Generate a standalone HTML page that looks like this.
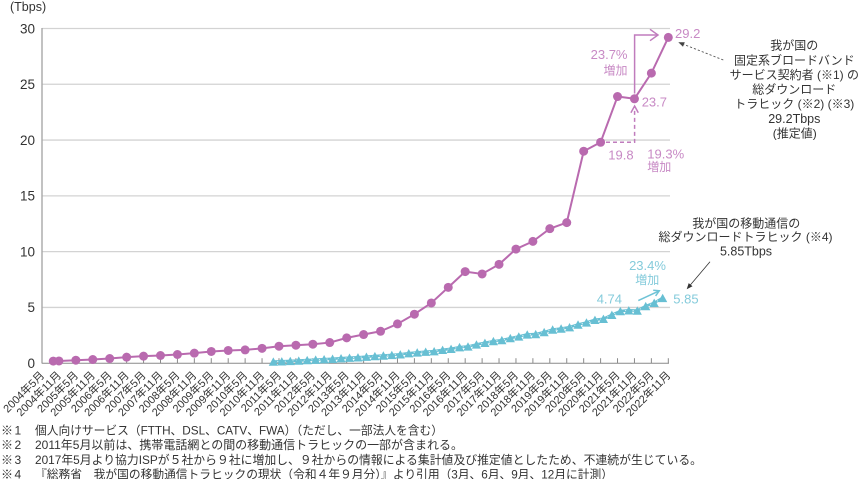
<!DOCTYPE html>
<html><head><meta charset="utf-8"><style>
html,body{margin:0;padding:0;background:#fff;}
svg{display:block;}
text{font-family:"Liberation Sans","Noto Sans CJK JP",sans-serif;}
</style></head><body>
<svg width="859" height="479" viewBox="0 0 859 479" xmlns="http://www.w3.org/2000/svg">
<defs>
<marker id="mc" markerWidth="10" markerHeight="10" refX="5" refY="5" markerUnits="userSpaceOnUse"><circle cx="5" cy="5" r="4.5" fill="#b96aaf"/></marker>
<marker id="mt" markerWidth="12" markerHeight="12" refX="6" refY="6" markerUnits="userSpaceOnUse"><path d="M6,1.8 L10.6,10.2 L1.4,10.2 Z" fill="#67bfd3"/></marker>
</defs>
<rect width="859" height="479" fill="#fff"/>
<!-- grid -->
<g stroke="#d3d3d3" stroke-width="1.3">
<line x1="42" y1="307.42" x2="670" y2="307.42"/>
<line x1="42" y1="251.63" x2="670" y2="251.63"/>
<line x1="42" y1="195.85" x2="670" y2="195.85"/>
<line x1="42" y1="140.06" x2="670" y2="140.06"/>
<line x1="42" y1="84.28" x2="670" y2="84.28"/>
<line x1="42" y1="28.49" x2="670" y2="28.49"/>
</g>
<line x1="42" y1="28" x2="42" y2="363.5" stroke="#a8a8a8" stroke-width="1.4"/>
<line x1="42" y1="363.2" x2="669" y2="363.2" stroke="#8a8a8a" stroke-width="1"/>
<g stroke="#8a8a8a" stroke-width="1">
<line x1="58.93" y1="358.2" x2="58.93" y2="363.2"/><line x1="75.85" y1="358.2" x2="75.85" y2="363.2"/><line x1="92.78" y1="358.2" x2="92.78" y2="363.2"/><line x1="109.71" y1="358.2" x2="109.71" y2="363.2"/><line x1="126.64" y1="358.2" x2="126.64" y2="363.2"/><line x1="143.56" y1="358.2" x2="143.56" y2="363.2"/><line x1="160.49" y1="358.2" x2="160.49" y2="363.2"/><line x1="177.42" y1="358.2" x2="177.42" y2="363.2"/><line x1="194.34" y1="358.2" x2="194.34" y2="363.2"/><line x1="211.27" y1="358.2" x2="211.27" y2="363.2"/><line x1="228.20" y1="358.2" x2="228.20" y2="363.2"/><line x1="245.13" y1="358.2" x2="245.13" y2="363.2"/><line x1="262.05" y1="358.2" x2="262.05" y2="363.2"/><line x1="278.98" y1="358.2" x2="278.98" y2="363.2"/><line x1="295.91" y1="358.2" x2="295.91" y2="363.2"/><line x1="312.84" y1="358.2" x2="312.84" y2="363.2"/><line x1="329.76" y1="358.2" x2="329.76" y2="363.2"/><line x1="346.69" y1="358.2" x2="346.69" y2="363.2"/><line x1="363.62" y1="358.2" x2="363.62" y2="363.2"/><line x1="380.54" y1="358.2" x2="380.54" y2="363.2"/><line x1="397.47" y1="358.2" x2="397.47" y2="363.2"/><line x1="414.40" y1="358.2" x2="414.40" y2="363.2"/><line x1="431.33" y1="358.2" x2="431.33" y2="363.2"/><line x1="448.25" y1="358.2" x2="448.25" y2="363.2"/><line x1="465.18" y1="358.2" x2="465.18" y2="363.2"/><line x1="482.11" y1="358.2" x2="482.11" y2="363.2"/><line x1="499.03" y1="358.2" x2="499.03" y2="363.2"/><line x1="515.96" y1="358.2" x2="515.96" y2="363.2"/><line x1="532.89" y1="358.2" x2="532.89" y2="363.2"/><line x1="549.82" y1="358.2" x2="549.82" y2="363.2"/><line x1="566.74" y1="358.2" x2="566.74" y2="363.2"/><line x1="583.67" y1="358.2" x2="583.67" y2="363.2"/><line x1="600.60" y1="358.2" x2="600.60" y2="363.2"/><line x1="617.52" y1="358.2" x2="617.52" y2="363.2"/><line x1="634.45" y1="358.2" x2="634.45" y2="363.2"/><line x1="651.38" y1="358.2" x2="651.38" y2="363.2"/><line x1="668.31" y1="358.2" x2="668.31" y2="363.2"/>
</g>
<!-- y labels -->
<g font-size="13.5" fill="#333" text-anchor="end">
<text x="35" y="368">0</text>
<text x="35" y="312.2">5</text>
<text x="35" y="256.4">10</text>
<text x="35" y="200.6">15</text>
<text x="35" y="144.9">20</text>
<text x="35" y="89.1">25</text>
<text x="35" y="33.3">30</text>
</g>
<text x="10" y="11" font-size="12.5" fill="#333">(Tbps)</text>
<!-- x labels -->
<g font-size="11" fill="#333" text-anchor="end">
<text transform="translate(45,376) rotate(-45)">2004年5月</text>
<text transform="translate(61.93,376) rotate(-45)">2004年11月</text>
<text transform="translate(78.85,376) rotate(-45)">2005年5月</text>
<text transform="translate(95.78,376) rotate(-45)">2005年11月</text>
<text transform="translate(112.71,376) rotate(-45)">2006年5月</text>
<text transform="translate(129.64,376) rotate(-45)">2006年11月</text>
<text transform="translate(146.56,376) rotate(-45)">2007年5月</text>
<text transform="translate(163.49,376) rotate(-45)">2007年11月</text>
<text transform="translate(180.42,376) rotate(-45)">2008年5月</text>
<text transform="translate(197.34,376) rotate(-45)">2008年11月</text>
<text transform="translate(214.27,376) rotate(-45)">2009年5月</text>
<text transform="translate(231.20,376) rotate(-45)">2009年11月</text>
<text transform="translate(248.13,376) rotate(-45)">2010年5月</text>
<text transform="translate(265.05,376) rotate(-45)">2010年11月</text>
<text transform="translate(281.98,376) rotate(-45)">2011年5月</text>
<text transform="translate(298.91,376) rotate(-45)">2011年11月</text>
<text transform="translate(315.84,376) rotate(-45)">2012年5月</text>
<text transform="translate(332.76,376) rotate(-45)">2012年11月</text>
<text transform="translate(349.69,376) rotate(-45)">2013年5月</text>
<text transform="translate(366.62,376) rotate(-45)">2013年11月</text>
<text transform="translate(383.54,376) rotate(-45)">2014年5月</text>
<text transform="translate(400.47,376) rotate(-45)">2014年11月</text>
<text transform="translate(417.40,376) rotate(-45)">2015年5月</text>
<text transform="translate(434.33,376) rotate(-45)">2015年11月</text>
<text transform="translate(451.25,376) rotate(-45)">2016年5月</text>
<text transform="translate(468.18,376) rotate(-45)">2016年11月</text>
<text transform="translate(485.11,376) rotate(-45)">2017年5月</text>
<text transform="translate(502.03,376) rotate(-45)">2017年11月</text>
<text transform="translate(518.96,376) rotate(-45)">2018年5月</text>
<text transform="translate(535.89,376) rotate(-45)">2018年11月</text>
<text transform="translate(552.82,376) rotate(-45)">2019年5月</text>
<text transform="translate(569.74,376) rotate(-45)">2019年11月</text>
<text transform="translate(586.67,376) rotate(-45)">2020年5月</text>
<text transform="translate(603.60,376) rotate(-45)">2020年11月</text>
<text transform="translate(620.52,376) rotate(-45)">2021年5月</text>
<text transform="translate(637.45,376) rotate(-45)">2021年11月</text>
<text transform="translate(654.38,376) rotate(-45)">2022年5月</text>
<text transform="translate(671.31,376) rotate(-45)">2022年11月</text>
</g>
<!-- mobile series -->
<polyline fill="none" stroke="#67bfd3" stroke-width="2.6" stroke-linejoin="round" points="273.34,361.53 281.80,361.30 290.27,360.97 298.73,360.52 307.19,360.08 315.66,359.63 324.12,359.18 332.58,358.74 341.05,358.18 349.51,357.73 357.97,357.29 366.44,356.73 374.90,356.06 383.37,355.50 391.83,354.94 400.29,354.27 408.76,353.16 417.22,352.38 425.68,351.71 434.15,351.15 442.61,349.81 451.07,348.81 459.54,347.13 468.00,346.46 476.46,344.46 484.93,342.78 493.39,341.11 501.86,340.11 510.32,338.10 518.78,336.42 527.25,334.41 535.71,334.08 544.17,332.07 552.64,329.51 561.10,328.50 569.56,327.16 578.03,324.49 586.49,322.48 594.96,319.80 603.42,318.80 611.88,314.78 620.35,311.10 628.81,310.32 637.27,310.54 645.74,306.08 654.20,302.84 662.66,297.93"/>
<polyline fill="none" stroke="#ffffff" stroke-width="0.9" stroke-dasharray="1.2 2.6" opacity="0.8" points="273.34,361.53 281.80,361.30 290.27,360.97 298.73,360.52 307.19,360.08 315.66,359.63 324.12,359.18 332.58,358.74 341.05,358.18 349.51,357.73 357.97,357.29 366.44,356.73 374.90,356.06 383.37,355.50 391.83,354.94 400.29,354.27 408.76,353.16 417.22,352.38 425.68,351.71 434.15,351.15 442.61,349.81 451.07,348.81 459.54,347.13 468.00,346.46 476.46,344.46 484.93,342.78 493.39,341.11 501.86,340.11 510.32,338.10 518.78,336.42 527.25,334.41 535.71,334.08 544.17,332.07 552.64,329.51 561.10,328.50 569.56,327.16 578.03,324.49 586.49,322.48 594.96,319.80 603.42,318.80 611.88,314.78 620.35,311.10 628.81,310.32 637.27,310.54 645.74,306.08 654.20,302.84 662.66,297.93"/>
<polyline fill="none" stroke="none" marker-start="url(#mt)" marker-mid="url(#mt)" marker-end="url(#mt)" points="273.34,361.53 281.80,361.30 290.27,360.97 298.73,360.52 307.19,360.08 315.66,359.63 324.12,359.18 332.58,358.74 341.05,358.18 349.51,357.73 357.97,357.29 366.44,356.73 374.90,356.06 383.37,355.50 391.83,354.94 400.29,354.27 408.76,353.16 417.22,352.38 425.68,351.71 434.15,351.15 442.61,349.81 451.07,348.81 459.54,347.13 468.00,346.46 476.46,344.46 484.93,342.78 493.39,341.11 501.86,340.11 510.32,338.10 518.78,336.42 527.25,334.41 535.71,334.08 544.17,332.07 552.64,329.51 561.10,328.50 569.56,327.16 578.03,324.49 586.49,322.48 594.96,319.80 603.42,318.80 611.88,314.78 620.35,311.10 628.81,310.32 637.27,310.54 645.74,306.08 654.20,302.84 662.66,297.93"/>
<!-- fixed broadband series -->
<polyline fill="none" stroke="#b96aaf" stroke-width="2" stroke-linejoin="round" marker-start="url(#mc)" marker-mid="url(#mc)" marker-end="url(#mc)" points="53.28,361.08 58.93,360.97 75.85,360.19 92.78,359.52 109.71,358.51 126.64,357.18 143.56,356.17 160.49,355.50 177.42,354.50 194.34,353.16 211.27,351.49 228.20,350.48 245.13,349.92 262.05,348.36 278.98,346.24 295.91,345.24 312.84,344.23 329.76,342.56 346.69,337.87 363.62,334.53 380.54,331.29 397.47,323.93 414.40,314.22 431.33,302.95 448.25,287.33 465.18,271.60 482.11,273.94 499.03,264.35 515.96,249.07 532.89,241.37 549.82,228.65 566.74,222.62 583.67,151.22 600.60,142.29 617.52,96.55 634.45,98.78 651.38,73.12 668.31,37.42"/>
<!-- purple annotations -->
<g fill="none" stroke="#c07cbd" stroke-width="1.5">
<polyline points="634.6,93.5 634.6,35 657.5,35"/>
<polyline points="650,29.3 658,35 650,40.7"/>
<polyline points="606,142.3 634.6,142.3 634.6,107" stroke-dasharray="4 3"/>
<polyline points="630.9,112.7 634.6,106 638.3,112.7"/>
</g>
<g font-size="13" fill="#c88ac5">
<text x="675" y="38">29.2</text>
<text x="627.5" y="59" text-anchor="end">23.7%</text>
<text x="627.5" y="74.5" text-anchor="end" font-size="12">増加</text>
<text x="641.7" y="106.3">23.7</text>
<text x="608.3" y="159.7">19.8</text>
<text x="647.3" y="158.5">19.3%</text>
<text x="647.3" y="171.2" font-size="12">増加</text>
</g>
<line x1="723.3" y1="60" x2="684" y2="44.5" stroke="#555" stroke-width="0.9" stroke-dasharray="2.2 2"/>
<polygon points="678.3,42.3 684.8,42.2 683,46.8" fill="#444"/>
<g font-size="12" fill="#333" text-anchor="middle">
<text x="794.3" y="49.5">我が国の</text>
<text x="794.3" y="64.5">固定系ブロードバンド</text>
<text x="794.3" y="79">サービス契約者 (※1) の</text>
<text x="794.3" y="93.5">総ダウンロード</text>
<text x="794.3" y="108">トラヒック (※2) (※3)</text>
<text x="794.3" y="123" font-size="12.5">29.2Tbps</text>
<text x="794.8" y="137.5">(推定値)</text>
</g>
<!-- mobile annotations -->
<g font-size="12" fill="#333" text-anchor="middle">
<text x="746.3" y="227.6">我が国の移動通信の</text>
<text x="745.5" y="241">総ダウンロードトラヒック (※4)</text>
<text x="746" y="255.6" font-size="12.5">5.85Tbps</text>
</g>
<line x1="710" y1="261.7" x2="690" y2="285.4" stroke="#333" stroke-width="0.8"/>
<polygon points="686.7,289.3 692.5,286.3 688.7,283.1" fill="#333"/>
<g font-size="13" fill="#84cbdb">
<text x="647.5" y="270" text-anchor="middle">23.4%</text>
<text x="647.2" y="284" text-anchor="middle" font-size="12">増加</text>
<text x="596.7" y="303.3">4.74</text>
<text x="673.3" y="303.6">5.85</text>
</g>
<g fill="none" stroke="#6fc3d6" stroke-width="1.5">
<line x1="638.3" y1="300.6" x2="659.3" y2="290.8"/>
<polyline points="653.2,290.3 659.3,290.8 655.6,295.9"/>
</g>
<!-- footnotes -->
<g font-size="12" fill="#333">
<text x="1" y="434.4">※</text><text x="14.5" y="434.4">1</text>
<text x="35" y="434.4" textLength="408" lengthAdjust="spacingAndGlyphs">個人向けサービス（FTTH、DSL、CATV、FWA）（ただし、一部法人を含む）</text>
<text x="1" y="449.2">※</text><text x="14.5" y="449.2">2</text>
<text x="35" y="449.2" textLength="428" lengthAdjust="spacingAndGlyphs">2011年5月以前は、携帯電話網との間の移動通信トラヒックの一部が含まれる。</text>
<text x="1" y="464">※</text><text x="14.5" y="464">3</text>
<text x="35" y="464" textLength="667" lengthAdjust="spacingAndGlyphs">2017年5月より協力ISPが５社から９社に増加し、９社からの情報による集計値及び推定値としたため、不連続が生じている。</text>
<text x="1" y="478.3">※</text><text x="14.5" y="478.3">4</text>
<text x="35" y="478.3" textLength="578" lengthAdjust="spacingAndGlyphs">『総務省　我が国の移動通信トラヒックの現状（令和４年９月分）』より引用（3月、6月、9月、12月に計測）</text>
</g>
</svg>
</body></html>
